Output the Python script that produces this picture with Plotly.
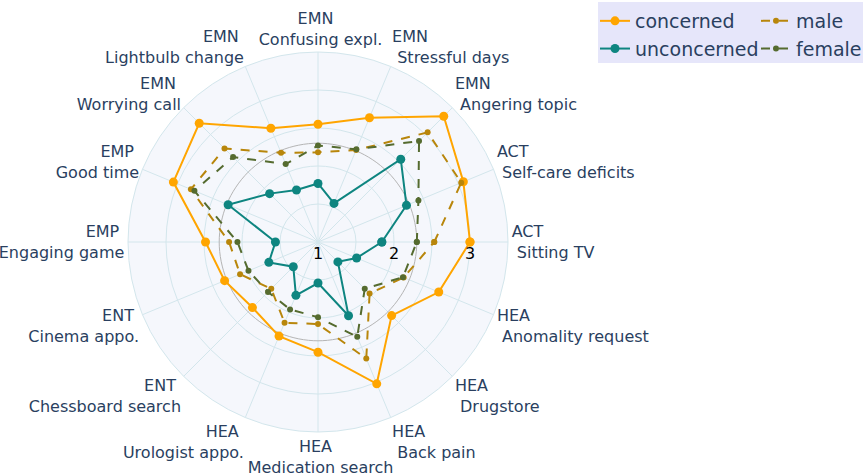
import plotly.graph_objects as go

NB = "\u00a0"
groups = ["ACT", "ACT", "EMN", "EMN", "EMN", "EMN", "EMN", "EMP", "EMP",
          "ENT", "ENT", "HEA", "HEA", "HEA", "HEA", "HEA"]
items = ["Sitting TV", "Self-care deficits", "Angering topic", "Stressful days",
         "Confusing expl.", "Lightbulb change", "Worrying call", "Good time",
         "Engaging game", "Cinema appo.", "Chessboard search", "Urologist appo.",
         "Medication search", "Back pain", "Drugstore", "Anomality request"]
categories = [f"{g}{NB}<br>{NB}{it}" for g, it in zip(groups, items)]

concerned = [3.00, 3.07, 3.34, 2.77, 2.55, 2.62, 3.21, 3.06, 2.48, 2.33, 2.22, 2.34, 2.45, 3.02, 2.37, 2.72]
unconcerned = [1.84, 2.26, 2.54, 1.55, 1.77, 1.74, 1.90, 2.28, 1.56, 1.70, 1.46, 1.76, 1.54, 2.05, 1.37, 1.55]
male = [2.53, 3.04, 3.04, 2.31, 2.18, 2.27, 2.74, 2.81, 2.17, 2.11, 1.87, 2.15, 2.08, 2.66, 1.96, 2.22]
female = [2.30, 2.43, 2.88, 2.32, 2.27, 2.11, 2.58, 2.76, 2.06, 1.99, 1.93, 1.96, 1.99, 2.35, 1.87, 2.21]
reference_level = 2.30

radial_ticks = [1, 1.5, 2, 2.5, 3, 3.5]
radial_text = ["1", "", "2", "", "3", ""]


def closed(vals):
    return list(vals) + [vals[0]]


theta = closed(categories)

fig = go.Figure()

fig.add_trace(go.Scatterpolar(
    r=[reference_level] * (len(categories) + 1), theta=theta,
    mode="lines", line=dict(color="#b4b4b4", width=1, shape="spline"),
    showlegend=False, hoverinfo="skip",
))

fig.add_trace(go.Scatterpolar(
    r=closed(concerned), theta=theta, name="concerned", mode="lines+markers",
    line=dict(color="#FFA500", width=2), marker=dict(size=9, color="#FFA500"),
    legend="legend",
))
fig.add_trace(go.Scatterpolar(
    r=closed(male), theta=theta, name="male", mode="lines+markers",
    line=dict(color="#B8860B", width=2, dash="dash"), marker=dict(size=6, color="#B8860B"),
    legend="legend2",
))
fig.add_trace(go.Scatterpolar(
    r=closed(unconcerned), theta=theta, name="unconcerned", mode="lines+markers",
    line=dict(color="#0E8580", width=2), marker=dict(size=9, color="#0E8580"),
    legend="legend",
))
fig.add_trace(go.Scatterpolar(
    r=closed(female), theta=theta, name="female", mode="lines+markers",
    line=dict(color="#556B2F", width=2, dash="dash"), marker=dict(size=6, color="#556B2F"),
    legend="legend2",
))

grid = "#D3E6EC"
legend_bg = "#E6E6FA"
legend_font = dict(size=19, color="#2a3f5f")
H_PLOT = 380
legend_top = 1 + 50 / H_PLOT

fig.add_shape(
    type="rect", xref="paper", yref="paper",
    x0=598 / 865, x1=863 / 865, y0=1 - 11 / H_PLOT, y1=legend_top,
    fillcolor=legend_bg, line=dict(width=0), layer="above",
)

fig.update_layout(
    width=865, height=473,
    margin=dict(l=0, r=0, t=52, b=41, autoexpand=False),
    paper_bgcolor="white",
    font=dict(family="Verdana, DejaVu Sans", color="#2a3f5f"),
    polar=dict(
        domain=dict(x=[(318 - 190) / 865, (318 + 190) / 865], y=[0, 1]),
        bgcolor="#F5F7FC",
        radialaxis=dict(
            range=[1, 3.5], tickvals=radial_ticks, ticktext=radial_text,
            showline=False, gridcolor=grid, ticks="",
            tickfont=dict(size=16, color="black"),
        ),
        angularaxis=dict(
            gridcolor=grid, linecolor=grid, ticks="",
            tickfont=dict(size=16, color="#2a3f5f"),
        ),
    ),
    legend=dict(
        orientation="v", x=595 / 865, xanchor="left", y=legend_top, yanchor="top",
        bgcolor="rgba(0,0,0,0)", font=legend_font, tracegroupgap=0,
    ),
    legend2=dict(
        orientation="v", x=756 / 865, xanchor="left", y=legend_top, yanchor="top",
        bgcolor="rgba(0,0,0,0)", font=legend_font, tracegroupgap=0,
    ),
)

fig.write_html(
    "out.html",
    config={"displayModeBar": False},
    post_script="document.body.style.margin='0';",
)
